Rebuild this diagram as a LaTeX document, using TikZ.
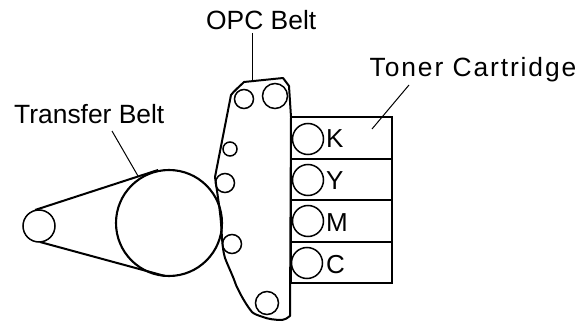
\documentclass[tikz,border=0pt]{standalone}
\usepackage{fontspec}
\setmainfont{Liberation Sans}
\begin{document}
\begin{tikzpicture}[x=1pt,y=-1pt,
  lab/.style={font=\fontsize{26.4}{26}\selectfont,inner sep=0pt,anchor=base west},
  letterlab/.style={font=\fontsize{26}{26}\selectfont,inner sep=0pt,anchor=base west},
  roller/.style={circle,draw,line width=1.5pt,inner sep=0pt,minimum size=#1},
  belt/.style={line width=2pt,line join=round},
  leader/.style={line width=1pt},
  box/.style={draw,line width=1.5pt,outer sep=0pt,minimum width=101pt,inner sep=0pt,anchor=north west}
]
\useasboundingbox (0,0) rectangle (581,326);
% toner cartridge boxes
\node[box,minimum height=42pt] (bk) at (291,117) {};
\node[box,minimum height=41pt] (by) at (291,159) {};
\node[box,minimum height=42pt] (bm) at (291,200) {};
\node[box,minimum height=41pt] (bc) at (291,242) {};
% OPC belt
\draw[belt,fill=white] (215,177) -- (231,95) .. controls (234,91) and (240,86) .. (244,82)
  -- (283,78) -- (289,86) -- (291,117) -- (290,316) .. controls (287,318) and (285,320) .. (282,320)
  .. controls (275,320) and (268,319) .. (263,317) .. controls (257,315) and (254,314) .. (252,312)
  .. controls (247,306) and (241,296) .. (236,285) .. controls (233,276) and (228,266) .. (225,258)
  .. controls (222,248) and (222,235) .. (221,223) .. controls (220,210) and (218,198) .. (215,177) -- cycle;
% rollers on the OPC belt
\node[roller=19pt] (r1) at (244,99) {};
\node[roller=25pt] (r2) at (275,96) {};
\node[roller=14pt] (r3) at (230,149) {};
\node[roller=19pt] (r4) at (225,183) {};
\node[roller=19pt] (r5) at (232,244) {};
\node[roller=23pt] (r6) at (267,303) {};
% developer rollers
\node[roller=31pt] (ck) at (308,139) {};
\node[roller=31pt] (cy) at (308,180) {};
\node[roller=31pt] (cm) at (308,221) {};
\node[roller=31pt] (cc) at (307,263) {};
\node[letterlab] (lk) at (326,148) {K};
\node[letterlab] (ly) at (326,189.5) {Y};
\node[letterlab] (lm) at (326,231) {M};
\node[letterlab] (lc) at (326,273) {C};
% transfer belt
\node[circle,draw,line width=2.1pt,inner sep=0pt,minimum size=106pt] (big) at (169,223) {};
\node[roller=32pt] (small) at (39,226) {};
\coordinate (tu1) at (35,210);
\coordinate (tu2) at (158,170);
\coordinate (tl1) at (40,242);
\coordinate (tl2) at (165,276);
\draw[belt] (tu1) -- (tu2);
\draw[belt] (tl1) -- (tl2);
% labels
\node[lab] (tb) at (14,124) {Transfer Belt};
\node[lab] (opc) at (206,30) {OPC Belt};
\node[lab] (tc) at (369.5,76.5) {\addfontfeatures{LetterSpace=7.2}Toner Cartridge};
% leaders
\coordinate (tbe) at (112,131);
\coordinate (tbf) at (138,176);
\coordinate (ope) at (252,33);
\coordinate (opf) at (252,82);
\coordinate (tce) at (409,85);
\coordinate (tcf) at (372,129);
\draw[leader] (tbe) -- (tbf);
\draw[leader] (ope) -- (opf);
\draw[leader] (tce) -- (tcf);
\end{tikzpicture}
\end{document}
